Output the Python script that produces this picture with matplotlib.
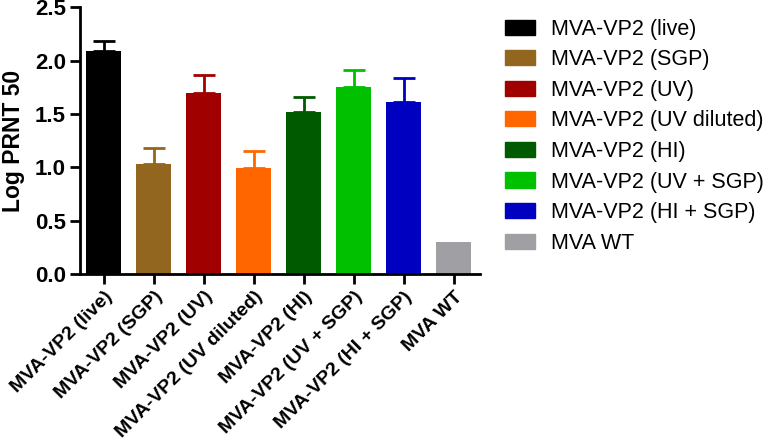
import numpy as np
import matplotlib.pyplot as plt
from matplotlib.patches import Patch

plt.rcParams['font.family'] = ['Liberation Sans', 'DejaVu Sans']

groups = ['MVA-VP2 (live)', 'MVA-VP2 (SGP)', 'MVA-VP2 (UV)', 'MVA-VP2 (UV diluted)',
          'MVA-VP2 (HI)', 'MVA-VP2 (UV + SGP)', 'MVA-VP2 (HI + SGP)', 'MVA WT']
means = [2.09, 1.03, 1.70, 0.99, 1.52, 1.75, 1.61, 0.30]
errs = [0.09, 0.15, 0.16, 0.165, 0.14, 0.16, 0.23, 0.0]
colors = ['#000000', '#93661F', '#A00000', '#FF6600', '#005A00', '#00C000', '#0000C0', '#A0A0A4']

fig = plt.figure(figsize=(7.69, 4.43), dpi=100)
ax = fig.add_axes([0.104, 0.381, 0.52, 0.603])

x = np.arange(len(groups))
ax.bar(x, means, width=0.7, color=colors, zorder=2)
for i in range(len(groups)):
    if errs[i] > 0:
        ax.errorbar(x[i], means[i], yerr=[[0], [errs[i]]], fmt='none',
                    ecolor=colors[i], elinewidth=2, capsize=8, capthick=2, zorder=1)

ax.set_xlim(-0.48, 7.52)
ax.set_ylim(0, 2.5)
ax.set_yticks(np.arange(0, 2.51, 0.5))
ax.set_yticklabels(['%.1f' % v for v in np.arange(0, 2.51, 0.5)], fontsize=16, fontweight='bold')
ax.set_xticks(x)
ax.set_xticklabels(groups, rotation=45, ha='right', va='top', rotation_mode='anchor',
                   fontsize=14, fontweight='bold')
ax.set_ylabel('Log PRNT 50', fontsize=16.5, fontweight='bold', labelpad=7)

for s in ['top', 'right']:
    ax.spines[s].set_visible(False)
for s in ['left', 'bottom']:
    ax.spines[s].set_linewidth(2)
ax.tick_params(width=2, length=7, pad=3)

handles = [Patch(facecolor=c, edgecolor=c) for c in colors]
fig.legend(handles, groups, loc='upper left', bbox_to_anchor=(0.657, 0.958),
           frameon=False, fontsize=15.5, handlelength=1.39, handleheight=0.7,
           handletextpad=0.75, labelspacing=0.445, borderpad=0, borderaxespad=0)

fig.savefig('out.png', dpi=100)
